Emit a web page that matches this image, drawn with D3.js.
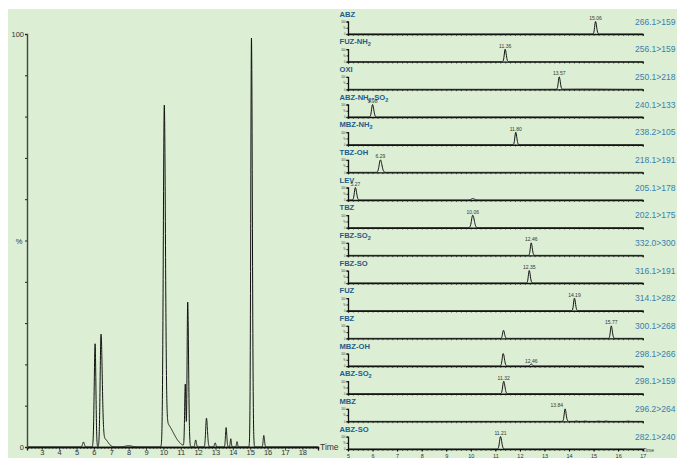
<!DOCTYPE html>
<html>
<head>
<meta charset="utf-8">
<style>
  body { margin: 0; background: #fff; }
  svg { display: block; font-family: "Liberation Sans", Arial, sans-serif; }
</style>
</head>
<body>
<svg id="chart" width="677" height="458"></svg>
<script src="https://cdn.jsdelivr.net/npm/d3@7"></script>
<script>
// ---- total ion chromatogram (left): peaks
var ticRt     = [5.40, 6.07, 6.41, 6.60, 8.00, 10.05, 10.10, 11.26, 11.40, 11.86, 12.48, 12.98, 13.61, 13.88, 14.24, 15.07, 15.78]
var ticHeight = [1.2,  25,   27,   2,    0.3,  79,    6,     15,    35,    1.7,   7,     1,     4.7,   2,     1.3,   99,    2.8]
var ticWidthL = [0.05, 0.05, 0.05, 0.1,  0.2,  0.055, 0.05,  0.035, 0.035, 0.04,  0.045, 0.04,  0.035, 0.03,  0.03,  0.04,  0.035]
var ticWidthR = [0.05, 0.045,0.07, 0.2,  0.2,  0.065, 0.45,  0.035, 0.05,  0.04,  0.055, 0.04,  0.04,  0.03,  0.03,  0.05,  0.04]
var ticXTicks = [3, 4, 5, 6, 7, 8, 9, 10, 11, 12, 13, 14, 15, 16, 17, 18]

// ---- MRM traces (right)
var compounds = ['ABZ', 'FUZ-NH2', 'OXI', 'ABZ-NH2-SO2', 'MBZ-NH2', 'TBZ-OH', 'LEV', 'TBZ',
                 'FBZ-SO2', 'FBZ-SO', 'FUZ', 'FBZ', 'MBZ-OH', 'ABZ-SO2', 'MBZ', 'ABZ-SO']
var transitions = ['266.1>159', '256.1>159', '250.1>218', '240.1>133', '238.2>105', '218.1>191', '205.1>178', '202.1>175',
                   '332.0>300', '316.1>191', '314.1>282', '300.1>268', '298.1>266', '298.1>159', '296.2>264', '282.1>240']
var peakTimes = [[15.08], [11.40], [13.60, 14.6], [6.00], [11.83], [6.32], [5.30, 10.08], [10.08],
                 [12.46], [12.38], [14.22], [11.33, 15.72], [11.32, 12.46], [11.34], [13.84, 14.3, 14.65, 15.2, 15.5, 16.4], [11.21]]
var peakHeights = [[100], [100], [100, 2], [100], [100], [100], [100, 12], [100],
                   [100], [100], [100], [65, 100], [100, 16], [100], [100, 3, 3, 2.5, 3, 2.5], [100]]
var peakWidths = [[0.035], [0.035], [0.035, 0.8], [0.04], [0.035], [0.05], [0.04, 0.06], [0.05],
                  [0.035], [0.035], [0.035], [0.035, 0.035], [0.04, 0.04], [0.04], [0.035, 0.04, 0.04, 0.04, 0.04, 0.04], [0.04]]
var peakLabels = [['15.06'], ['11.36'], ['13.57', ''], ['5.98'], ['11.80'], ['6.29'], ['5.27', ''], ['10.06'],
                  ['12.46'], ['12.35'], ['14.19'], ['', '15.77'], ['', '12.46'], ['11.32'], ['13.84', '', '', '', '', ''], ['11.21']]
var mrmXTicks = [5, 6, 7, 8, 9, 10, 11, 12, 13, 14, 15, 16, 17]

var svg = d3.select('#chart')

svg.append('rect')
  .attr('x', 8).attr('y', 9)
  .attr('width', 669).attr('height', 449)
  .attr('fill', '#dcefd4')

function gauss(t, rt, h, wl, wr) {
  var s = t < rt ? wl : wr
  return h * Math.exp(-0.5 * Math.pow((t - rt) / s, 2))
}

// ================= left: TIC =================
var x = d3.scaleLinear().domain([2.15, 18.9]).range([27, 318])
var y = d3.scaleLinear().domain([0, 100]).range([447, 34])

var ticData = d3.range(2.15, 18.9, 0.004).map(function(t) {
  var v = 0
  ticRt.forEach(function(rt, i) { v += gauss(t, rt, ticHeight[i], ticWidthL[i], ticWidthR[i]) })
  return [t, Math.min(v, 100)]
})

svg.append('path')
  .datum(ticData)
  .attr('fill', 'none')
  .attr('stroke', '#111')
  .attr('stroke-width', 1)
  .attr('d', d3.line().x(function(d) { return x(d[0]) }).y(function(d) { return y(d[1]) }))

// minor x ticks, then labelled ones
var gx = svg.append('g').attr('transform', 'translate(0,447)')
gx.call(d3.axisBottom(x).tickValues(d3.range(2.2, 18.9, 0.2)).tickSize(2).tickFormat(''))
gx.append('g').call(d3.axisBottom(x).tickValues(ticXTicks).tickSize(3.5).tickFormat(d3.format('d')))
gx.selectAll('.domain').attr('stroke', '#111').attr('stroke-width', 1.3)
gx.selectAll('line').attr('stroke', '#222').attr('stroke-width', 0.7)
gx.selectAll('text').attr('font-size', 7.5).attr('fill', '#333').attr('y', 3).attr('dy', '0.7em')
svg.append('text').attr('x', 320).attr('y', 450)
  .attr('font-size', 8.5).attr('fill', '#333').text('Time')

var gy = svg.append('g').attr('transform', 'translate(27,0)')
gy.call(d3.axisLeft(y).tickValues(d3.range(0, 101, 10)).tickSize(2)
  .tickFormat(function(d) { return d === 100 || d === 0 ? d : '' }))
gy.select('.domain').attr('stroke', '#444').attr('stroke-width', 1.4)
gy.selectAll('line').attr('stroke', '#222')
gy.selectAll('text').attr('font-size', 7.5).attr('fill', '#333').attr('x', -3)
svg.append('text').attr('x', 19).attr('y', y(50) + 3)
  .attr('text-anchor', 'middle')
  .attr('font-size', 7.5).attr('fill', '#333').text('%')

// ================= right: MRM panels =================
var xr = d3.scaleLinear().domain([5, 17]).range([348, 642.7])
var panelStep = 27.67
var firstAxis = 34

function addSubLabel(sel, name) {
  // digits in compound names are subscripts
  name.split(/(\d+)/).forEach(function(part) {
    if (!part) return
    var ts = sel.append('tspan').text(part)
    if (/^\d+$/.test(part)) ts.attr('font-size', 5.5).attr('dy', 2)
    else if (sel.selectAll('tspan').size() > 1) ts.attr('dy', -2)
  })
}

compounds.forEach(function(name, i) {
  var base = firstAxis + i * panelStep
  var yr = d3.scaleLinear().domain([0, 100]).range([base, base - 12.5])
  var g = svg.append('g')

  var trace = d3.range(5, 17.001, 0.01).map(function(t) {
    var v = 0
    peakTimes[i].forEach(function(rt, k) {
      v += gauss(t, rt, peakHeights[i][k], peakWidths[i][k], peakWidths[i][k] * 1.2)
    })
    return [t, Math.min(v, 100)]
  })

  g.append('path')
    .datum(trace)
    .attr('fill', 'none')
    .attr('stroke', '#111')
    .attr('stroke-width', 1)
    .attr('d', d3.line().x(function(d) { return xr(d[0]) }).y(function(d) { return yr(d[1]) }))

  var ax = g.append('g').attr('transform', 'translate(0,' + base + ')')
  ax.call(d3.axisBottom(xr).tickValues(d3.range(5, 17.01, 0.2)).tickSize(1.8).tickFormat(''))
  ax.select('.domain').attr('stroke', '#111').attr('stroke-width', 1.4)
  ax.selectAll('line').attr('stroke', '#222').attr('stroke-width', 0.8)
  if (i === compounds.length - 1) {
    var lab = ax.append('g').call(d3.axisBottom(xr).tickValues(mrmXTicks).tickSize(2.5).tickFormat(d3.format('d')))
    lab.select('.domain').remove()
    lab.selectAll('text').attr('font-size', 5.5).attr('fill', '#333').attr('dy', '0.6em')
    g.append('text').attr('x', 643).attr('y', base + 3)
      .attr('font-size', 5).attr('fill', '#333').text('Time')
  }

  var ay = g.append('g').attr('transform', 'translate(348,0)')
  ay.call(d3.axisLeft(yr).tickValues([0, 50, 100]).tickSize(1.5)
    .tickFormat(function(d) { return d === 50 ? '%' : d }))
  ay.select('.domain').attr('stroke', '#111').attr('stroke-width', 1.3)
  ay.selectAll('line').attr('stroke', '#222')
  ay.selectAll('text').attr('font-size', 2.6).attr('fill', '#333').attr('x', -2.5)

  // compound label
  var t = g.append('text').attr('x', 339.5).attr('y', base - 17.5)
    .attr('font-size', 7.6).attr('font-weight', 'bold').attr('fill', '#1d5c8c')
  addSubLabel(t, name)

  // transition
  g.append('text').attr('x', 635).attr('y', base - 9.5)
    .attr('font-size', 8.5).attr('fill', '#3a7eae').text(transitions[i])

  // peak labels
  peakTimes[i].forEach(function(rt, k) {
    var txt = peakLabels[i][k]
    if (!txt) return
    var leftSide = name === 'MBZ'
    g.append('text')
      .attr('x', xr(rt) + (leftSide ? -2 : 0))
      .attr('y', yr(peakHeights[i][k]) - 1.5)
      .attr('text-anchor', leftSide ? 'end' : 'middle')
      .attr('font-size', 5).attr('fill', '#333').text(txt)
  })
})
</script>
</body>
</html>
